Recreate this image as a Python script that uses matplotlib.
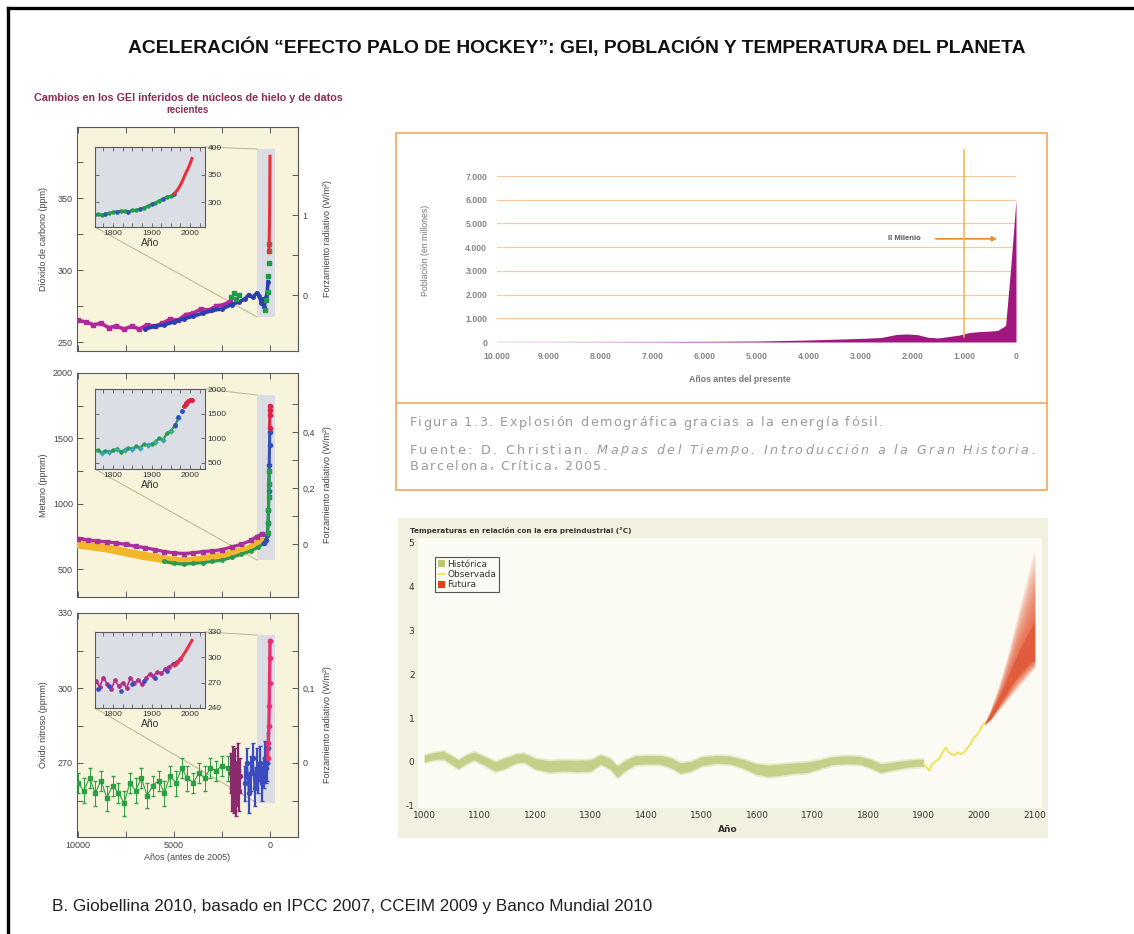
"""Hockey-stick composite: greenhouse gases, world population and temperature."""

import matplotlib

matplotlib.use("Agg")
import matplotlib.pyplot as plt
import numpy as np
from matplotlib.font_manager import FontProperties
from matplotlib.lines import Line2D
from matplotlib.patches import Patch, Rectangle
from matplotlib.ticker import FixedLocator, FuncFormatter

plt.rcParams["font.family"] = ["Liberation Sans", "DejaVu Sans"]
plt.rcParams["axes.unicode_minus"] = False

W, H = 1134, 934

# ---- CO2 (years before 2005, ppm) ----
co2_dome_bp = [10000, 9600, 9200, 8800, 8400, 8000, 7600, 7200, 6800, 6400, 6000,
               5600, 5200, 4800, 4400, 4000, 3600, 3200, 2800, 2400, 2100]
co2_dome_ppm = [265, 264, 262, 263, 260, 261, 259, 261, 259, 262, 261,
                263, 266, 265, 269, 270, 273, 272, 275, 276, 278]
co2_law_bp = [6500, 6000, 5500, 5000, 4500, 4000, 3500, 3000, 2500, 2000, 1600,
              1300, 1100, 900, 700, 550, 450, 350, 300, 250, 200, 150, 100]
co2_law_ppm = [259, 261, 262, 264, 266, 268, 270, 272, 273, 276, 278,
               280, 283, 281, 284, 282, 277, 280, 274, 279, 281, 284, 292]
co2_green_bp = [2050, 1900, 1750, 1600, 280, 200, 130, 90, 70, 55, 45]
co2_green_ppm = [281, 284, 280, 283, 272, 279, 285, 296, 305, 313, 318]
co2_red_bp = [50, 40, 30, 20, 10, 0]
co2_red_ppm = [312, 320, 330, 342, 360, 379]

co2_ins_yr = [1750, 1760, 1770, 1780, 1790, 1800, 1810, 1820, 1830, 1840, 1850,
              1860, 1870, 1880, 1890, 1900, 1910, 1920, 1930, 1940, 1950, 1958]
co2_ins_ppm = [277, 278, 277, 279, 280, 282, 283, 284, 284, 283, 285,
               286, 288, 290, 293, 296, 299, 303, 306, 310, 311, 315]
co2_ins_red_yr = [1958, 1965, 1970, 1975, 1980, 1985, 1990, 1995, 2000, 2005]
co2_ins_red_ppm = [315, 320, 325, 331, 338, 346, 354, 361, 369, 379]

# ---- CH4 (years before 2005, ppmm) ----
ch4_bp = [10000, 9500, 9000, 8500, 8000, 7500, 7000, 6500, 6000, 5500, 5000,
          4500, 4000, 3500, 3000, 2500, 2000, 1500, 1000, 700, 400]
ch4_mag_ppb = [735, 725, 715, 710, 700, 690, 675, 665, 650, 635, 625,
               620, 625, 635, 640, 650, 670, 690, 720, 750, 770]
ch4_grip_ppb = [690, 680, 670, 660, 645, 630, 615, 600, 590, 575, 565,
                560, 565, 575, 590, 600, 615, 635, 660, 690, 710]
ch4_green_bp = [5500, 5000, 4500, 4000, 3500, 3000, 2500, 2000, 1500, 1000, 600, 300]
ch4_green_ppb = [560, 545, 540, 545, 550, 560, 570, 590, 615, 640, 670, 700]
ch4_blue_bp = [300, 200, 150, 100, 80, 60, 40, 25, 15]
ch4_blue_ppb = [700, 720, 760, 850, 950, 1100, 1300, 1450, 1550]
ch4_spike_bp = [120, 100, 80, 60, 50, 40]
ch4_spike_ppb = [780, 850, 950, 1050, 1150, 1250]
ch4_red_bp = [20, 10, 5, 0]
ch4_red_ppb = [1580, 1680, 1720, 1750]

ch4_ins_yr = [1750, 1760, 1770, 1780, 1790, 1800, 1810, 1820, 1830, 1840, 1850, 1860,
              1870, 1880, 1890, 1900, 1910, 1920, 1930, 1940, 1950, 1960, 1970]
ch4_ins_ppb = [730, 760, 700, 740, 720, 750, 780, 720, 760, 800, 780, 830,
               800, 870, 850, 880, 920, 1000, 960, 1100, 1150, 1250, 1400]
ch4_ins_blue_yr = [1960, 1970, 1980, 1990]
ch4_ins_blue_ppb = [1260, 1420, 1560, 1690]
ch4_ins_red_yr = [1985, 1990, 1995, 2000, 2005]
ch4_ins_red_ppb = [1650, 1720, 1750, 1775, 1780]

# ---- N2O (years before 2005, ppmm) ----
n2o_gis_bp = [10000, 9700, 9400, 9100, 8800, 8500, 8200, 7900, 7600, 7300, 7000, 6700, 6400,
              6100, 5800, 5500, 5200, 4900, 4600, 4300, 4000, 3700, 3400, 3100, 2800, 2500, 2200]
n2o_gis_ppb = [262, 259, 264, 258, 263, 256, 261, 258, 254, 262, 259, 264, 257,
               261, 263, 258, 265, 262, 268, 264, 262, 266, 264, 268, 267, 269, 268]
n2o_gis_err = [4, 5, 4, 5, 4, 5, 4, 4, 5, 4, 5, 4, 5, 4, 4, 5, 4, 5, 4, 5, 4, 4, 5, 4, 4, 4, 5]
n2o_pur_bp = [2050, 2000, 1950, 1900, 1850, 1800, 1750, 1700, 1650, 1600, 1550]
n2o_pur_ppb = [266, 260, 270, 258, 264, 268, 256, 262, 270, 259, 265]
n2o_pur_err = [8, 9, 7, 8, 9, 8, 7, 9, 8, 8, 7]
n2o_blue_bp = [1300, 1200, 1100, 1000, 900, 800, 700, 600, 500, 400, 300, 250, 200, 150, 100]
n2o_blue_ppb = [262, 270, 258, 266, 272, 260, 268, 264, 270, 262, 266, 272, 268, 270, 276]
n2o_blue_err = [7, 6, 8, 7, 6, 7, 8, 6, 7, 7, 6, 7, 6, 7, 6]
n2o_red_bp = [120, 90, 60, 40, 25, 10, 0]
n2o_red_ppb = [272, 278, 285, 293, 302, 312, 319]

n2o_ins_yr = [1755, 1765, 1775, 1785, 1795, 1805, 1815, 1825, 1835, 1845, 1855, 1865,
              1875, 1885, 1895, 1905, 1915, 1925, 1935, 1945, 1955, 1965, 1975]
n2o_ins_ppb = [272, 265, 276, 268, 262, 273, 266, 270, 264, 275, 270, 273,
               268, 276, 280, 278, 283, 281, 286, 289, 292, 295, 298]
n2o_ins_blue_yr = [1760, 1790, 1820, 1850, 1880, 1910, 1940, 1960]
n2o_ins_blue_ppb = [262, 266, 260, 268, 272, 276, 284, 292]
n2o_ins_red_yr = [1960, 1970, 1980, 1990, 2000, 2005]
n2o_ins_red_ppb = [290, 295, 301, 308, 316, 320]

# ---- World population (years before present, millions) ----
pop_bp = [10000, 9000, 8000, 7000, 6000, 5000, 4000, 3000, 2600, 2300, 2100, 1900,
          1700, 1500, 1300, 1100, 900, 700, 500, 350, 200, 100, 50, 0]
pop_millions = [4, 6, 10, 15, 25, 40, 85, 150, 190, 320, 340, 310,
                200, 170, 230, 290, 400, 440, 460, 490, 700, 3200, 4600, 6000]
milenio_bp = 1000

# ---- Temperature relative to pre-industrial (°C) ----
temp_hist_yr = [1000, 1020, 1035, 1050, 1062, 1075, 1090, 1110, 1128, 1145, 1165, 1180,
                1200, 1225, 1250, 1275, 1300, 1318, 1335, 1348, 1362, 1380, 1400, 1425,
                1445, 1462, 1480, 1500, 1525, 1550, 1575, 1598, 1620, 1640, 1665, 1690,
                1715, 1735, 1760, 1785, 1805, 1822, 1840, 1865, 1885, 1900]
temp_hist_mid = [0.08, 0.14, 0.16, 0.04, -0.05, 0.06, 0.14, 0.02, -0.10, -0.03, 0.08, 0.10,
                 -0.04, -0.10, -0.08, -0.09, -0.08, 0.06, -0.04, -0.22, -0.08, 0.04, 0.05, 0.05,
                 -0.02, -0.14, -0.10, 0.02, 0.06, 0.05, -0.04, -0.16, -0.20, -0.18, -0.14, -0.12,
                 -0.04, 0.03, 0.05, 0.04, -0.04, -0.14, -0.10, -0.05, -0.02, -0.02]
temp_hist_half = [0.08, 0.08, 0.09, 0.10, 0.10, 0.10, 0.09, 0.10, 0.11, 0.12, 0.10, 0.10,
                  0.12, 0.13, 0.13, 0.13, 0.13, 0.11, 0.12, 0.13, 0.12, 0.10, 0.10, 0.10,
                  0.11, 0.12, 0.11, 0.10, 0.09, 0.09, 0.10, 0.12, 0.13, 0.13, 0.12, 0.12,
                  0.10, 0.09, 0.09, 0.09, 0.10, 0.10, 0.09, 0.08, 0.08, 0.08]
temp_obs_yr = [1900, 1905, 1910, 1915, 1920, 1925, 1930, 1935, 1940, 1945, 1950, 1955,
               1960, 1965, 1970, 1975, 1980, 1985, 1990, 1995, 2000, 2005, 2010]
temp_obs = [-0.05, -0.12, -0.20, -0.05, 0.00, 0.05, 0.12, 0.25, 0.33, 0.22, 0.18, 0.15,
            0.22, 0.18, 0.20, 0.25, 0.35, 0.42, 0.55, 0.60, 0.70, 0.82, 0.90]
fut_yr = [2010, 2020, 2030, 2040, 2050, 2060, 2070, 2080, 2090, 2100]
fut_lo = [0.85, 0.95, 1.10, 1.25, 1.40, 1.55, 1.70, 1.85, 2.00, 2.15]
fut_hi = [0.90, 1.20, 1.55, 1.95, 2.40, 2.90, 3.40, 3.90, 4.40, 4.85]
fut_core_lo = [0.86, 0.98, 1.18, 1.38, 1.58, 1.78, 1.96, 2.10, 2.24, 2.32]
fut_core_hi = [0.88, 1.10, 1.35, 1.60, 1.90, 2.20, 2.50, 2.75, 3.00, 3.20]

CREAM = "#f8f4dc"
INSET_BG = "#dcdee5"
BAND = "#dcdde2"
LINK = "#b9b48f"
AX_GREY = "#5a5a5a"
TXT = "#444444"
CAP = "#9a9a9a"
OLIVE = "#bcc673"
NARROW = ["Liberation Sans Narrow", "DejaVu Sans"]

fig = plt.figure(figsize=(W / 100, H / 100), dpi=100)
fig.patch.set_facecolor("white")
renderer = fig.canvas.get_renderer()


def px_axes(box, **kw):
    x0, y0, x1, y1 = box
    return fig.add_axes([x0 / W, 1 - y1 / H, (x1 - x0) / W, (y1 - y0) / H], **kw)


def fig_text(x, y, s, width=None, **kw):
    t = fig.text(x / W, 1 - y / H, s, **kw)
    if width:
        w = t.get_window_extent(renderer).width
        t.set_fontsize(t.get_fontsize() * width / w)
    return t


def tracked_line(x, y, segments, width, size, color, family="DejaVu Sans"):
    """Letter-spaced line; segments are (string, style) pairs joined by a space."""
    probe = fig.text(0, 0, "x", fontsize=size, family=family)

    def measure(s, st):
        probe.set_style(st)
        probe.set_text(s)
        return probe.get_window_extent(renderer).width

    places, offset, n = [], 0.0, 0
    for k, (s, st) in enumerate(segments):
        for i, c in enumerate(s):
            if c != " ":
                places.append((c, st, offset + measure(s[: i + 1], st), n))
            n += 1
        offset += measure(s, st)
        if k < len(segments) - 1:
            offset += measure("x x", st) - measure("xx", st)
            n += 1
    probe.remove()
    track = (width - offset) / (n - 1)
    for c, st, right, j in places:
        fig_text(x + right + j * track, y, c, ha="right", va="center", fontsize=size,
                 color=color, style=st, family=family)


def frac(box, px, py):
    x0, y0, x1, y1 = box
    return (px - x0) / (x1 - x0), (y1 - py) / (y1 - y0)


def comma(v, _):
    return f"{v:g}".replace(".", ",")


def ghg_panel(box, ylim, yticks, yminor, ylabel, forcing, fticks, fminor, band, inset,
              bottom_labels=False):
    ax = px_axes(box, facecolor=CREAM)
    ax.set_xlim(10052, -1458)
    ax.set_ylim(*ylim)
    ax.set_xticks([10000, 5000, 0])
    ax.xaxis.set_minor_locator(FixedLocator([7500, 2500]))
    ax.set_yticks(yticks)
    ax.yaxis.set_minor_locator(FixedLocator(yminor))
    ax.tick_params(which="both", direction="in", length=4, width=0.7, top=True, right=False,
                   labelsize=6.5, labelcolor=TXT, color=AX_GREY, pad=3,
                   labelbottom=bottom_labels)
    for sp in ax.spines.values():
        sp.set_color(AX_GREY)
        sp.set_linewidth(0.8)
    ymid = (box[1] + box[3]) / 2
    fig_text(43, ymid, ylabel, ha="center", va="center", rotation=90, fontsize=6.5, color=TXT)

    sec = ax.secondary_yaxis("right", functions=forcing)
    sec.set_yticks(fticks)
    sec.yaxis.set_minor_locator(FixedLocator(fminor))
    sec.yaxis.set_major_formatter(FuncFormatter(comma))
    sec.tick_params(which="both", direction="in", length=4, width=0.7, labelsize=6.5,
                    labelcolor=TXT, color=AX_GREY, pad=3)
    sec.spines["right"].set_color(AX_GREY)
    sec.spines["right"].set_linewidth(0.8)
    fig_text(328, ymid, "Forzamiento radiativo (W/m²)", ha="center", va="center",
             rotation=90, fontsize=6.5, color=TXT)

    # grey strip marking the zoomed period, linked to the inset
    bx0, by0 = frac(box, band[0], band[3])
    bx1, by1 = frac(box, band[2], band[1])
    ax.add_patch(Rectangle((bx0, by0), bx1 - bx0, by1 - by0, transform=ax.transAxes,
                           facecolor=BAND, edgecolor="none", zorder=0.5))
    links = [((inset[2], inset[1]), (band[0], band[1])),
             ((inset[0], inset[3]), (band[0], band[3]))]
    for p, q in links:
        (ax0, ay0), (ax1, ay1) = frac(box, *p), frac(box, *q)
        ax.plot([ax0, ax1], [ay0, ay1], transform=ax.transAxes, color=LINK, lw=0.7, zorder=1)
    return ax


def ghg_inset(box, ylim, yticks):
    ax = px_axes(box, facecolor=INSET_BG)
    ax.set_xlim(1753, 2039)
    ax.set_ylim(*ylim)
    ax.set_xticks([1800, 1900, 2000])
    ax.xaxis.set_minor_locator(FixedLocator([1775, 1825, 1850, 1875, 1925, 1950, 1975, 2025]))
    ax.set_yticks(yticks)
    ax.yaxis.tick_right()
    ax.tick_params(which="both", direction="in", length=3, width=0.6, left=True, right=True,
                   top=True, bottom=True, labelsize=6, labelcolor="#333", color=AX_GREY, pad=2)
    for sp in ax.spines.values():
        sp.set_color(AX_GREY)
        sp.set_linewidth(0.8)
    ax.set_xlabel("Año", fontsize=7.5, color="#333", labelpad=1)
    return ax


# ---- frame and headings ----
fig.add_artist(Line2D([8 / W, 1], [1 - 8 / H, 1 - 8 / H], color="black", lw=2.4))
fig.add_artist(Line2D([8 / W, 8 / W], [0, 1 - 8 / H], color="black", lw=2.4))
fig_text(577, 47, "ACELERACIÓN “EFECTO PALO DE HOCKEY”: GEI, POBLACIÓN Y TEMPERATURA DEL PLANETA",
         width=899, ha="center", va="center", fontsize=14, weight="bold", color="#111")
fig_text(52, 906, "B. Giobellina 2010, basado en IPCC 2007, CCEIM 2009 y Banco Mundial 2010",
         width=603, ha="left", va="center", fontsize=12, color="#222")
fig_text(188, 98, "Cambios en los GEI inferidos de núcleos de hielo y de datos", width=310,
         ha="center", va="center", fontsize=7, weight="bold", color="#8c2a55")
fig_text(188, 110, "recientes", ha="center", va="center", fontsize=6.9, weight="bold",
         color="#8c2a55")

# ---- CO2 ----
P1, I1, B1 = (77, 127, 298, 351), (95, 147, 205, 227), (257, 149, 275, 317)
ax1 = ghg_panel(P1, (243.8, 399.3), [250, 300, 350], [275, 325, 375],
                "Dióxido de carbono (ppm)",
                (lambda c: (c - 282.6) / 55.6, lambda f: f * 55.6 + 282.6),
                [0, 1], [0.5, 1.5], B1, I1)
ax1.plot(co2_dome_bp, co2_dome_ppm, color="#b0289c", lw=2.6, marker="s", ms=2.5, zorder=3)
ax1.plot(co2_law_bp, co2_law_ppm, color="#2b3fae", lw=2.6, marker="o", ms=2.5, zorder=4)
ax1.plot(co2_green_bp, co2_green_ppm, ls="none", color="#1f9a4a", marker="s", ms=3.5, zorder=5)
ax1.plot(co2_red_bp, co2_red_ppm, color="#e8303a", lw=2.2, zorder=6)

ins1 = ghg_inset(I1, (255, 400), [300, 350, 400])
ins1.plot(co2_ins_yr, co2_ins_ppm, color="#1f9a4a", lw=1.8, marker="o", ms=2.2)
ins1.plot(co2_ins_yr[::3], co2_ins_ppm[::3], ls="none", color="#3550c0", marker="o", ms=2)
ins1.plot(co2_ins_red_yr, co2_ins_red_ppm, color="#e8303a", lw=2.2)

# ---- CH4 ----
P2, I2, B2 = (77, 373, 298, 597), (95, 389, 205, 469), (257, 395, 275, 560)
ax2 = ghg_panel(P2, (288, 2000), [500, 1000, 1500, 2000], [750, 1250, 1750],
                "Metano (ppmm)",
                (lambda c: (c - 693) / 2140, lambda f: f * 2140 + 693),
                [0, 0.2, 0.4], [0.1, 0.3, 0.5], B2, I2)
ax2.plot(ch4_bp, ch4_grip_ppb, color="#f2b62a", lw=6, solid_capstyle="round", zorder=3)
ax2.plot(ch4_bp, ch4_mag_ppb, color="#a8309a", lw=2.4, marker="s", ms=2.5, zorder=4)
ax2.plot(ch4_green_bp, ch4_green_ppb, color="#2a9a50", lw=2.2, marker="o", ms=2.5, zorder=4)
ax2.plot(ch4_blue_bp, ch4_blue_ppb, color="#3050b8", lw=2.2, marker="o", ms=3, zorder=5)
ax2.plot(ch4_spike_bp, ch4_spike_ppb, color="#2a9a50", lw=2.2, marker="s", ms=3, zorder=5)
ax2.plot(ch4_red_bp, ch4_red_ppb, color="#e02040", lw=2.2, marker="o", ms=3, zorder=6)

ins2 = ghg_inset(I2, (370, 2000), [500, 1000, 1500, 2000])
ins2.plot(ch4_ins_yr, ch4_ins_ppb, color="#2a9a50", lw=1.6, marker="o", ms=2.2)
ins2.plot(ch4_ins_yr[::2], ch4_ins_ppb[::2], ls="none", color="#3aa8c8", marker="+", ms=4)
ins2.plot(ch4_ins_blue_yr, ch4_ins_blue_ppb, ls="none", color="#3050b8", marker="o", ms=2.5)
ins2.plot(ch4_ins_red_yr, ch4_ins_red_ppb, color="#e02040", lw=1.8, marker="o", ms=2.5)

# ---- N2O ----
P3, I3, B3 = (77, 613, 298, 837), (95, 632, 205, 708), (257, 635, 275, 803)
ax3 = ghg_panel(P3, (240.4, 330), [270, 300, 330], [255, 285, 315],
                "Óxido nitroso (ppmm)",
                (lambda c: (c - 270) / 300, lambda f: f * 300 + 270),
                [0, 0.1], [-0.05, 0.05, 0.15], B3, I3, bottom_labels=True)
ax3.set_xlabel("Años (antes de 2005)", fontsize=6.5, color=TXT, labelpad=2)
ax3.errorbar(n2o_gis_bp, n2o_gis_ppb, yerr=n2o_gis_err, fmt="-s", color="#2aa040",
             ms=2.5, lw=0.8, elinewidth=0.7, capsize=1.5, zorder=3)
ax3.errorbar(n2o_pur_bp, n2o_pur_ppb, yerr=n2o_pur_err, fmt="-o", color="#8c2a6e",
             ms=3, lw=1.6, elinewidth=1.6, capsize=1.5, zorder=4)
ax3.errorbar(n2o_blue_bp, n2o_blue_ppb, yerr=n2o_blue_err, fmt="-o", color="#3a4cc0",
             ms=3, lw=1.6, elinewidth=1.6, capsize=1.5, zorder=5)
ax3.plot(n2o_red_bp, n2o_red_ppb, color="#e83070", lw=2.4, marker="o", ms=3, zorder=6)

ins3 = ghg_inset(I3, (240, 330), [240, 270, 300, 330])
ins3.plot(n2o_ins_yr, n2o_ins_ppb, color="#b03088", lw=1.2, marker="o", ms=2.4)
ins3.plot(n2o_ins_blue_yr, n2o_ins_blue_ppb, ls="none", color="#3a4cc0", marker="o", ms=2.4)
ins3.plot(n2o_ins_red_yr, n2o_ins_red_ppb, color="#e83048", lw=2.2)

# ---- Population ----
pax = px_axes((497, 176, 1016, 342))
pax.set_facecolor("none")
pax.set_xlim(10000, 0)
pax.set_ylim(0, 7000)
pax.set_yticks(range(0, 7001, 1000))
pax.set_xticks(range(10000, -1, -1000))
dotted = FuncFormatter(lambda v, _: f"{int(v):,}".replace(",", "."))
pax.xaxis.set_major_formatter(dotted)
pax.yaxis.set_major_formatter(dotted)
pax.tick_params(length=0, labelsize=6.2, labelcolor="#858585", pad=7)
for lab in pax.get_xticklabels() + pax.get_yticklabels():
    lab.set_fontweight("bold")
for sp in pax.spines.values():
    sp.set_visible(False)
pax.grid(axis="y", color="#f8c9a0", lw=0.9)
pax.set_axisbelow(True)
pax.axhline(0, color="#f3a868", lw=1.0, zorder=2)
pax.fill_between(pop_bp, pop_millions, color="#a0177f", lw=0, zorder=3)
pax.plot([milenio_bp, milenio_bp], [200, 8100], color="#f3b54a", lw=1.1, clip_on=False, zorder=4)
pax.annotate("", xy=(310, 4350), xytext=(1600, 4350),
             arrowprops=dict(arrowstyle="-|>", color="#f08a28", lw=1.2, mutation_scale=7))
pax.text(2150, 4350, "II Milenio", ha="center", va="center", fontsize=5.5,
         weight="bold", color="#555")
fig_text(740, 380, "Años antes del presente", ha="center", va="center", fontsize=6.3,
         weight="bold", color="#777")
fig_text(425, 250, "Población (en millones)", ha="center", va="center", fontsize=6.3,
         rotation=90, color="#777")

fig.add_artist(Rectangle((396 / W, 1 - 490 / H), (1047 - 396) / W, (490 - 133) / H,
                         transform=fig.transFigure, fill=False, ec="#f6ad6a", lw=1.3))
fig.add_artist(Line2D([396 / W, 1047 / W], [1 - 403 / H, 1 - 403 / H], color="#f6ad6a", lw=1.3))

tracked_line(410, 423, [("Figura 1.3. Explosión demográfica gracias a la energía fósil.",
                         "normal")], 473, 9.2, CAP)
tracked_line(410, 450, [("Fuente: D. Christian.", "normal"),
                        ("Mapas del Tiempo. Introducción a la Gran Historia.", "italic")],
             625, 9.2, CAP)
tracked_line(410, 466, [("Barcelona, Crítica, 2005.", "normal")], 197, 9.2, CAP)

# ---- Temperature ----
fig.add_artist(Rectangle((398 / W, 1 - 838 / H), 650 / W, 320 / H, transform=fig.transFigure,
                         facecolor="#f2f1df", edgecolor="none", zorder=-1))
tax = px_axes((418, 538, 1042, 808), facecolor="#fbfbf4")
tax.set_xlim(989, 2113)
tax.set_ylim(-1.05, 5.11)
tax.set_xticks(range(1000, 2101, 100))
tax.set_yticks(range(-1, 6))
tax.tick_params(length=0, labelsize=6.5, labelcolor="#333", pad=2.5)
for lab in tax.get_xticklabels() + tax.get_yticklabels():
    lab.set_family(NARROW)
for sp in tax.spines.values():
    sp.set_visible(False)

mid = np.array(temp_hist_mid)
half = np.array(temp_hist_half)
tax.fill_between(temp_hist_yr, mid - half - 0.04, mid + half + 0.04, color=OLIVE,
                 alpha=0.3, lw=0)
tax.fill_between(temp_hist_yr, mid - half, mid + half, color=OLIVE, alpha=0.75, lw=0)
tax.plot(temp_obs_yr, temp_obs, color="#eee35a", lw=1.4)

# future projection drawn as nested bands fading outwards
lo, hi = np.array(fut_lo), np.array(fut_hi)
clo, chi = np.array(fut_core_lo), np.array(fut_core_hi)
for t in np.linspace(0, 1, 10):
    tax.fill_between(fut_yr, clo + (lo - clo) * (1 - t), chi + (hi - chi) * (1 - t),
                     color="#e2461c", alpha=0.13, lw=0)
tax.fill_between(fut_yr, clo, chi, color="#d8361a", alpha=0.35, lw=0)

handles = [Patch(facecolor=OLIVE, label="Histórica"),
           Line2D([], [], color="#eee35a", lw=1.3, label="Observada"),
           Patch(facecolor="#e2401c", label="Futura")]
leg = tax.legend(handles=handles, loc="upper left", bbox_to_anchor=(0.027, 0.93),
                 prop=FontProperties(family=NARROW, size=6.5), frameon=True, fancybox=False,
                 edgecolor="#555", facecolor="#fbfbf4", framealpha=1, handlelength=0.8,
                 handleheight=0.8, handletextpad=0.3, borderpad=0.3, labelspacing=0.15,
                 borderaxespad=0)
leg.get_frame().set_linewidth(0.8)
for txt in leg.get_texts():
    txt.set_color("#333")

fig_text(410, 531, "Temperaturas en relación con la era preindustrial (°C)", width=223,
         ha="left", va="center", fontsize=6.5, weight="bold", color="#333", family=NARROW)
fig_text(728, 829, "Año", ha="center", va="center", fontsize=6.5, weight="bold",
         color="#333", family=NARROW)

fig.savefig("out.png", dpi=100, facecolor="white")
